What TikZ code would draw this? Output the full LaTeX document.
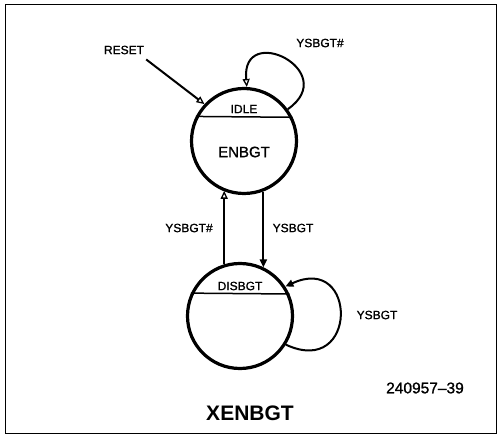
\documentclass[tikz,border=0pt]{standalone}
\usepackage{fontspec}
\setmainfont{Liberation Sans}
\newfontfamily\diagfont[FakeBold=1.2,Ligatures=TeX]{Liberation Sans}
\usepackage{tikz}
\usetikzlibrary{arrows.meta,positioning,calc}
\tikzset{
  statecirc/.style={circle, draw=black, line width=3.2pt, minimum size=105pt,
                    inner sep=0pt},
  statediv/.style={draw=black, line width=1.5pt},
  statename/.style={font=\diagfont\fontsize{12}{12}\selectfont, inner sep=1pt},
  stateout/.style={font=\diagfont\fontsize{15}{15}\selectfont, inner sep=1pt},
  condlabel/.style={font=\diagfont\fontsize{12}{12}\selectfont, inner sep=1pt},
  trans/.style={draw=black, line width=2pt, -{Triangle[length=8pt,width=7pt]}},
  transopen/.style={trans, -{Triangle[open,length=8pt,width=7pt,line width=1.3pt]}},
}
\begin{document}
\begin{tikzpicture}[x=1pt,y=1pt]
  \useasboundingbox (0,0) rectangle (498,434);
  \draw[line width=1pt] (5,1) rectangle (496,429);

  % states
  \node[statecirc] (idle)   at (244,293) {};
  \node[statecirc] (disbgt) at (240,118) {};
  \draw[statediv] (idle.153.6) -- (idle.26.4);
  \draw[statediv] (disbgt.155.5) -- (disbgt.24.5);
  \node[statename] (idlename) at ($(idle.center)+(0,32)$) {IDLE};
  \node[stateout]  (idleout)  at ($(idle.center)+(0,-11)$) {ENBGT};
  \node[statename] (disname)  at ($(disbgt.center)+(0,30)$) {DISBGT};

  % reset
  \node[condlabel] (reset) at (124,384) {RESET};
  \draw[transopen] (reset.south east) ++(1,-4) -- (idle.137);

  % transitions
  \draw[transopen] (idle.36) .. controls +(35:66) and +(95:66) .. (idle.87);
  \node[condlabel] (loopidle) at (320,391) {YSBGT\#};
  \draw[transopen] (disbgt.107.8) -- (disbgt.107.8 |- idle.247.8);
  \node[condlabel] (upcond) at (189,206) {YSBGT\#};
  \draw[trans] (idle.291.1) -- (idle.291.1 |- disbgt.64.4);
  \node[condlabel] (downcond) at (293,206) {YSBGT};
  \draw[trans] (disbgt.-32.6) .. controls +(-25:80) and +(25:80) .. (disbgt.33);
  \node[condlabel] (loopdis) at (377,119) {YSBGT};

  % caption
  \node[font=\diagfont\fontsize{15.5}{15.5}\selectfont] (figno) at (425,46) {240957--39};
  \node[font=\bfseries\fontsize{21}{21}\selectfont] (title) at (250,21) {XENBGT};
\end{tikzpicture}
\end{document}
